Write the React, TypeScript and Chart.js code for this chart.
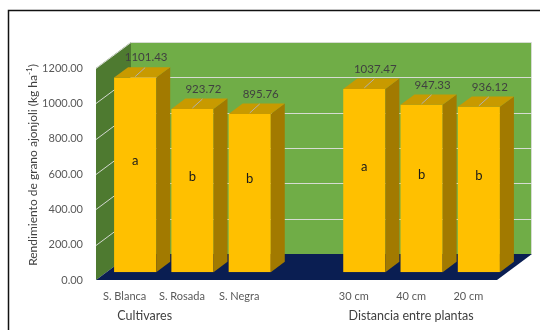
import { useEffect, useRef } from "react";
import { Chart, registerables } from "chart.js";

Chart.register(...registerables);

// Categories (an empty slot separates the two factor groups)
const categories = ["S. Blanca", "S. Rosada", "S. Negra", "", "30 cm", "40 cm", "20 cm"];
// Grain yield (kg ha-1)
const yields: (number | null)[] = [1101.43, 923.72, 895.76, null, 1037.47, 947.33, 936.12];
// Mean separation letters
const letters = ["a", "b", "b", "", "a", "b", "b"];
// Value axis
const yMin = 0;
const yMax = 1200;
const yStep = 200;
// Group captions under the category axis
const groupTitles = ["Cultivares", "Distancia entre plantas"];
const groupAt = [0.35, 5];

const FONT = "Lato, 'Open Sans', sans-serif";

// Pseudo-3D depth of the plot box and position of the bars inside it
const DX = 35;
const DY = 26;
const BAR_Z0 = 0.3;
const BAR_Z1 = 0.7;

const boxPlugin = {
  id: "box3d",
  beforeDraw(chart: any) {
    const { ctx, chartArea: a, scales } = chart;
    const y = scales.y;
    const y0 = y.getPixelForValue(yMin);
    const yT = y.getPixelForValue(yMax);
    ctx.save();
    // outer frame
    ctx.strokeStyle = "#111";
    ctx.lineWidth = 1.5;
    ctx.beginPath();
    ctx.moveTo(540, 10.5);
    ctx.lineTo(8.5, 10.5);
    ctx.lineTo(8.5, 330);
    ctx.stroke();

    // side wall
    ctx.fillStyle = "#4E7A30";
    ctx.beginPath();
    ctx.moveTo(a.left, yT);
    ctx.lineTo(a.left + DX, yT - DY);
    ctx.lineTo(a.left + DX, y0 - DY);
    ctx.lineTo(a.left, y0);
    ctx.closePath();
    ctx.fill();
    // back wall
    ctx.fillStyle = "#70AD47";
    ctx.fillRect(a.left + DX, yT - DY, a.right - a.left, y0 - yT);
    // floor
    ctx.fillStyle = "#0A1E52";
    ctx.beginPath();
    ctx.moveTo(a.left, y0);
    ctx.lineTo(a.left + DX, y0 - DY);
    ctx.lineTo(a.right + DX, y0 - DY);
    ctx.lineTo(a.right, y0);
    ctx.closePath();
    ctx.fill();

    // gridlines on walls
    ctx.strokeStyle = "rgba(225,225,225,0.9)";
    ctx.lineWidth = 1;
    for (let v = yMin + yStep; v <= yMax; v += yStep) {
      const py = Math.round(y.getPixelForValue(v)) + 0.5;
      ctx.beginPath();
      ctx.moveTo(a.left, py);
      ctx.lineTo(a.left + DX, py - DY);
      ctx.lineTo(a.right + DX, py - DY);
      ctx.stroke();
    }
    ctx.beginPath();
    ctx.moveTo(a.right + DX - 0.5, yT - DY);
    ctx.lineTo(a.right + DX - 0.5, y0 - DY);
    ctx.stroke();
    ctx.restore();
  },
  beforeDatasetsDraw(chart: any) {
    chart.ctx.save();
    chart.ctx.translate(BAR_Z0 * DX, -BAR_Z0 * DY);
  },
  afterDatasetsDraw(chart: any) {
    const { ctx } = chart;
    const meta = chart.getDatasetMeta(0);
    const ddx = (BAR_Z1 - BAR_Z0) * DX;
    const ddy = (BAR_Z1 - BAR_Z0) * DY;
    meta.data.forEach((el: any, i: number) => {
      const v = yields[i];
      if (v == null) return;
      const { x, y: top, base, width } = el.getProps(["x", "y", "base", "width"], true);
      const l = x - width / 2;
      const r = x + width / 2;
      // side face
      ctx.fillStyle = "#A27A00";
      ctx.beginPath();
      ctx.moveTo(r, top);
      ctx.lineTo(r + ddx, top - ddy);
      ctx.lineTo(r + ddx, base - ddy);
      ctx.lineTo(r, base);
      ctx.closePath();
      ctx.fill();
      // top face
      ctx.fillStyle = "#C89A00";
      ctx.beginPath();
      ctx.moveTo(l, top);
      ctx.lineTo(l + ddx, top - ddy);
      ctx.lineTo(r + ddx, top - ddy);
      ctx.lineTo(r, top);
      ctx.closePath();
      ctx.fill();
      // leader line and value label
      ctx.strokeStyle = "#B0B0B0";
      ctx.lineWidth = 1;
      ctx.beginPath();
      ctx.moveTo(x, top - 1);
      ctx.lineTo(x + 10, top - 10);
      ctx.stroke();
      ctx.fillStyle = "#404040";
      ctx.font = `11.5px ${FONT}`;
      ctx.textAlign = "center";
      ctx.textBaseline = "middle";
      ctx.fillText(v.toFixed(2), x + 11, top - 20);
      // significance letter
      ctx.fillStyle = "#1a1a1a";
      ctx.font = `13px ${FONT}`;
      ctx.fillText(letters[i], x, (top + base) / 2 - 14);
    });
    ctx.restore();
  },
  afterDraw(chart: any) {
    const { ctx, chartArea: a, scales } = chart;
    ctx.save();
    // value-axis title with superscript
    const main = "Rendimiento de grano ajonjoli (kg ha";
    const sup = "-1";
    const tail = ")";
    ctx.font = `12px ${FONT}`;
    const wMain = ctx.measureText(main).width;
    const wTail = ctx.measureText(tail).width;
    ctx.font = `8px ${FONT}`;
    const wSup = ctx.measureText(sup).width;
    const total = wMain + wSup + wTail;
    ctx.translate(33, 165);
    ctx.rotate(-Math.PI / 2);
    ctx.fillStyle = "#404040";
    ctx.textBaseline = "middle";
    ctx.textAlign = "left";
    let sx = -total / 2;
    ctx.font = `12px ${FONT}`;
    ctx.fillText(main, sx, 0);
    sx += wMain;
    ctx.font = `8px ${FONT}`;
    ctx.fillText(sup, sx, -4);
    sx += wSup;
    ctx.font = `12px ${FONT}`;
    ctx.fillText(tail, sx, 0);
    ctx.restore();

    // group captions
    ctx.save();
    ctx.fillStyle = "#404040";
    ctx.font = `12.5px ${FONT}`;
    ctx.textAlign = "center";
    ctx.textBaseline = "middle";
    groupTitles.forEach((t, i) => {
      ctx.fillText(t, scales.x.getPixelForValue(groupAt[i]), a.bottom + 36);
    });
    ctx.restore();
  },
};

export default function App() {
  const ref = useRef<HTMLCanvasElement>(null);
  useEffect(() => {
    if (!ref.current) return;
    const chart = new Chart(ref.current, {
      type: "bar",
      data: {
        labels: categories,
        datasets: [
          {
            data: yields,
            backgroundColor: "#FFC000",
            borderWidth: 0,
            barPercentage: 0.735,
            categoryPercentage: 1,
          },
        ],
      },
      options: {
        animation: false,
        responsive: false,
        layout: { padding: { left: 0, top: 68, right: 43, bottom: 0 } },
        plugins: {
          legend: { display: false },
          tooltip: { enabled: false },
        },
        scales: {
          x: {
            grid: { display: false, drawTicks: false },
            border: { display: false },
            ticks: { color: "#595959", font: { family: FONT, size: 11 }, padding: 10, maxRotation: 0, autoSkip: false },
            afterFit(s: any) {
              s.height = 50;
            },
          },
          y: {
            min: yMin,
            max: yMax,
            grid: { display: false, drawTicks: false },
            border: { display: false },
            ticks: {
              stepSize: yStep,
              color: "#595959",
              font: { family: FONT, size: 11 },
              padding: 13,
              callback: (v: any) => Number(v).toFixed(2),
            },
            afterFit(s: any) {
              s.width = 96;
            },
          },
        },
      },
      plugins: [boxPlugin],
    });
    return () => chart.destroy();
  }, []);
  return (
    <div style={{ position: "fixed", left: 0, top: 0, width: 540, height: 330, background: "#fff" }}>
      <canvas ref={ref} width={540} height={330} />
    </div>
  );
}
